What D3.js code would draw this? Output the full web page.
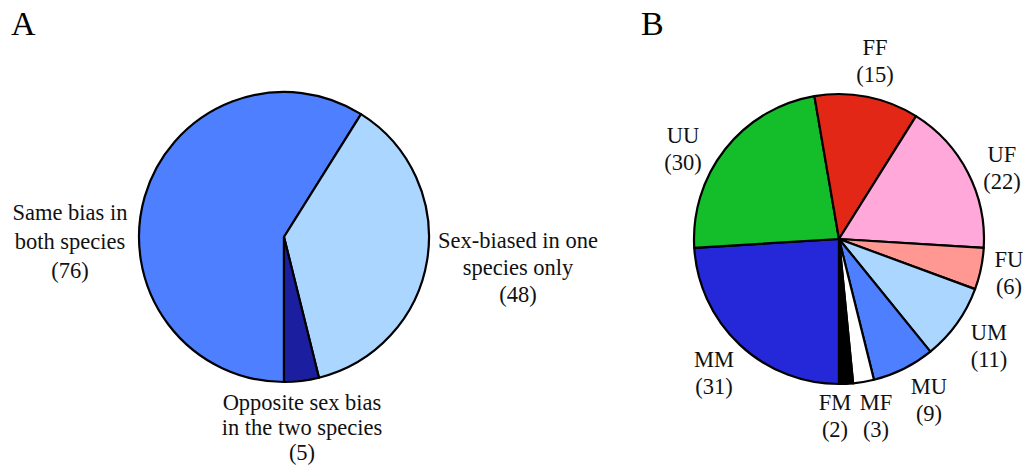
<!DOCTYPE html>
<html><head><meta charset="utf-8">
<script src="https://cdn.jsdelivr.net/npm/d3@7"></script>
<style>
html,body{margin:0;padding:0;background:#fff;}
svg{display:block;}
text{font-family:'Liberation Serif','Times New Roman',Times,'DejaVu Serif',serif;}
</style></head>
<body>
<svg id="c" width="1025" height="467"></svg>
<script>
// Panel A
const catsA = ["Same bias in both species", "Sex-biased in one species only", "Opposite sex bias in the two species"];
const valsA = [76, 48, 5];
// Panel B
const catsB = ["MM", "UU", "FF", "UF", "FU", "UM", "MU", "MF", "FM"];
const valsB = [31, 30, 15, 22, 6, 11, 9, 3, 2];

const colorA = d3.scaleOrdinal().domain(catsA).range(["#4d7fff", "#aad6ff", "#1c1ea0"]);
const colorB = d3.scaleOrdinal().domain(catsB)
  .range(["#2528d8", "#14bd2a", "#e32716", "#ffa8d9", "#ff9892", "#aad6ff", "#4d7fff", "#ffffff", "#000000"]);

const FONT = "Liberation Serif, Times New Roman, Times, DejaVu Serif, serif";
const svg = d3.select("#c");
const pie = d3.pie().sort(null).value(d => d.v).startAngle(Math.PI).endAngle(3 * Math.PI);

function drawPie(cx, cy, r, cats, vals, color) {
  const g = svg.append("g").attr("transform", `translate(${cx},${cy})`);
  const arc = d3.arc().innerRadius(0).outerRadius(r);
  const data = pie(cats.map((c, i) => ({c, v: vals[i]})));
  g.selectAll("path").data(data).join("path")
    .attr("d", arc)
    .attr("fill", d => color(d.data.c))
    .attr("stroke", "#000")
    .attr("stroke-width", 2.2)
    .attr("stroke-linejoin", "round");
}

drawPie(284, 237, 145, catsA, valsA, colorA);
drawPie(839, 239, 145, catsB, valsB, colorB);

function label(x, y, lines, lh, size) {
  const t = svg.append("text").attr("text-anchor", "middle")
    .attr("font-family", FONT)
    .attr("font-size", size).attr("fill", "#111");
  lines.forEach((l, i) => t.append("tspan").attr("x", x).attr("y", y + i * lh).text(l));
}

svg.append("text").attr("x", 11).attr("y", 35).attr("font-family", FONT).attr("font-size", 34).text("A");
svg.append("text").attr("x", 641).attr("y", 35).attr("font-family", FONT).attr("font-size", 34).text("B");

const fs = 22.5;
label(70, 220, ["Same bias in", "both species", "(" + valsA[0] + ")"], 29, fs);
label(518, 248, ["Sex-biased in one", "species only", "(" + valsA[1] + ")"], 27, fs);
label(302, 410, ["Opposite sex bias", "in the two species", "(" + valsA[2] + ")"], 25, fs);

const posB = {
  MM: [714, 367], UU: [683, 143], FF: [875, 55], UF: [1002, 162], FU: [1009, 267],
  UM: [989, 340], MU: [929, 394], MF: [876, 410], FM: [835, 410]
};
catsB.forEach((c, i) => {
  label(posB[c][0], posB[c][1], [c, "(" + valsB[i] + ")"], 27, fs);
});
</script>
</body></html>
